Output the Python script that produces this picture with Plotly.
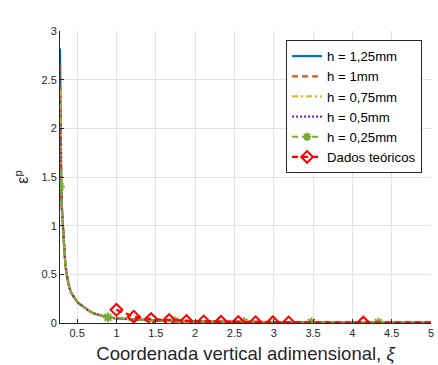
import plotly.graph_objects as go

# Plastic strain distribution along the vertical coordinate
xi_grid = [0.282, 0.290, 0.296, 0.301, 0.310, 0.319, 0.327, 0.335, 0.350,
           0.369, 0.385, 0.402, 0.425, 0.453, 0.485, 0.516, 0.560, 0.600,
           0.650, 0.705, 0.790, 0.874, 1.0, 1.25, 1.5, 2.0, 2.5, 3.0, 3.5,
           4.0, 4.5, 5.0]
eps_tail = [1.60, 1.40, 1.26, 1.12, 1.00, 0.87, 0.75, 0.60,
            0.49, 0.42, 0.36, 0.31, 0.27, 0.235, 0.205, 0.177, 0.154,
            0.125, 0.10, 0.078, 0.06, 0.048, 0.033, 0.025, 0.016, 0.011, 0.008, 0.006,
            0.005, 0.004, 0.0035]

eps_h125 = [2.82] + eps_tail
eps_h100 = [2.65] + eps_tail
eps_h075 = [2.40] + eps_tail
eps_h050 = [2.00] + eps_tail
eps_h025 = [1.42] + eps_tail

# markers drawn along the h = 0,25mm curve
xi_h025_mk = [0.282, 0.89, 1.74, 2.62, 3.48, 4.33]
eps_h025_mk = [1.40, 0.058, 0.02, 0.01, 0.006, 0.0045]

# theoretical data
xi_teo = [1.0, 1.22, 1.44, 1.67, 1.89, 2.11, 2.33, 2.55, 2.77, 2.99, 3.19, 4.14, 5.1]
eps_teo = [0.135, 0.065, 0.04, 0.03, 0.02, 0.016, 0.012, 0.01, 0.008, 0.007,
           0.006, 0.004, 0.003]

x_ticks = [0.5, 1, 1.5, 2, 2.5, 3, 3.5, 4, 4.5, 5]
x_ticktext = ["0.5", "1", "1.5", "2", "2.5", "3", "3.5", "4", "4.5", "5"]
y_ticks = [0, 0.5, 1, 1.5, 2, 2.5, 3]
y_ticktext = ["0", "0.5", "1", "1.5", "2", "2.5", "3"]

BLUE = "#0072BD"
ORANGE = "#D95319"
YELLOW = "#EDB120"
PURPLE = "#7E2F8E"
GREEN = "#77AC30"
RED = "#FF0000"
AX = "#262626"
FONT = "Liberation Sans, Arial, sans-serif"

fig = go.Figure()

fig.add_trace(go.Scatter(x=xi_grid, y=eps_h125, mode="lines", name="h = 1,25mm",
                         line=dict(color=BLUE, width=2.2)))
fig.add_trace(go.Scatter(x=xi_grid, y=eps_h100, mode="lines", name="h = 1mm",
                         line=dict(color=ORANGE, width=2.2, dash="6px,4px")))
fig.add_trace(go.Scatter(x=xi_grid, y=eps_h075, mode="lines", name="h = 0,75mm",
                         line=dict(color=YELLOW, width=2.2, dash="6px,3px,2px,3px")))
fig.add_trace(go.Scatter(x=xi_grid, y=eps_h050, mode="lines", name="h = 0,5mm",
                         line=dict(color=PURPLE, width=2.2, dash="2px,2px")))
fig.add_trace(go.Scatter(x=xi_grid, y=eps_h025, mode="lines", name="h = 0,25mm",
                         legendgroup="h025", showlegend=False,
                         line=dict(color=GREEN, width=2.2, dash="6px,4px")))
fig.add_trace(go.Scatter(x=xi_h025_mk, y=eps_h025_mk, mode="markers",
                         legendgroup="h025", showlegend=False,
                         marker=dict(symbol="asterisk-open", size=8, color=GREEN,
                                     line=dict(color=GREEN, width=2))))
fig.add_trace(go.Scatter(x=[None], y=[None], mode="lines+markers", name="h = 0,25mm",
                         legendgroup="h025",
                         line=dict(color=GREEN, width=2.2, dash="6px,4px"),
                         marker=dict(symbol="asterisk-open", size=7, color=GREEN,
                                     line=dict(color=GREEN, width=2))))
fig.add_trace(go.Scatter(x=xi_teo, y=eps_teo, mode="lines+markers", name="Dados teóricos",
                         line=dict(color=RED, width=2.2, dash="6px,4px"),
                         marker=dict(symbol="diamond-open", size=9, color=RED,
                                     line=dict(color=RED, width=2))))

axis_common = dict(
    showgrid=True, gridcolor="#e3e3e3", gridwidth=1,
    showline=True, linecolor=AX, linewidth=1,
    ticks="inside", ticklen=4, tickcolor=AX, tickwidth=1,
    tickfont=dict(family=FONT, size=11, color=AX),
    zeroline=False, mirror=False,
)

fig.update_xaxes(range=[0.282, 5], tickvals=x_ticks, ticktext=x_ticktext,
                 title=dict(text="Coordenada vertical adimensional, <i>ξ</i>",
                            font=dict(family=FONT, size=18.5, color=AX),
                            standoff=8),
                 **axis_common)
fig.update_yaxes(range=[0, 3], tickvals=y_ticks, ticktext=y_ticktext,
                 title=dict(text="ε<sup>p</sup>",
                            font=dict(family=FONT, size=16, color=AX),
                            standoff=8),
                 **axis_common)

fig.update_layout(
    width=438, height=365,
    margin=dict(l=60, r=4, t=31, b=42),
    paper_bgcolor="white", plot_bgcolor="white",
    showlegend=True,
    legend=dict(x=0.976, y=0.969, xanchor="right", yanchor="top",
                bgcolor="white", bordercolor="#262626", borderwidth=1,
                font=dict(family=FONT, size=13.2, color="#000000"),
                tracegroupgap=0, itemwidth=30),
)

fig.write_html("out.html")
